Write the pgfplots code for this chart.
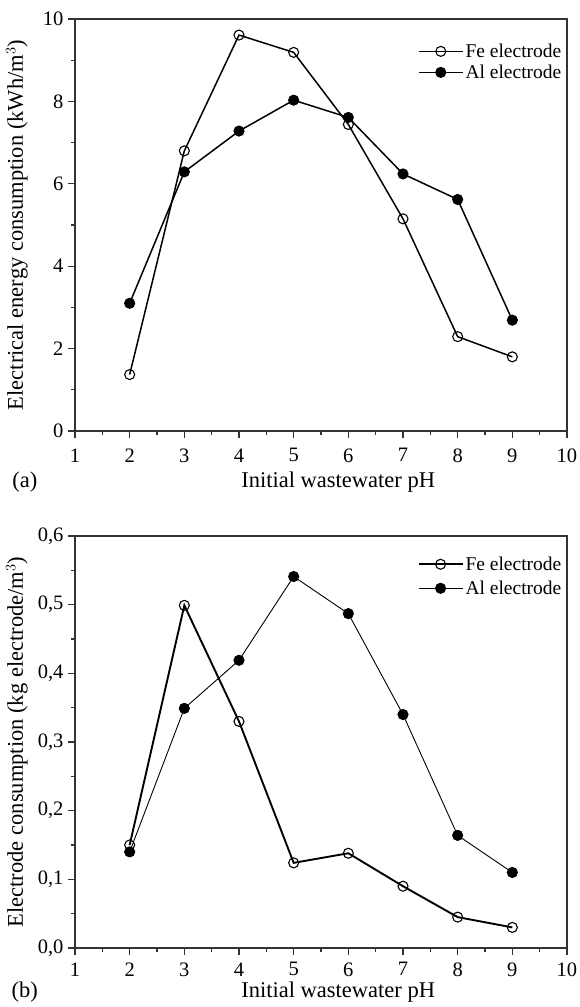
\documentclass[border=0pt]{standalone}
\usepackage{pgfplots}
\pgfplotsset{compat=1.18}
\usepackage{fontspec}
\setmainfont{Liberation Serif}

\pgfplotsset{
  myaxis/.style={
    scale only axis,
    clip=false,
    width=492pt, height=412pt,
    xmin=1, xmax=10,
    xtick={1,2,...,10},
    minor x tick num=1,
    minor y tick num=1,
    tick pos=left,
    tick align=outside,
    major tick length=7pt,
    minor tick length=4pt,
    axis line style={line width=1.2pt, black!80},
    every tick/.style={line width=1.2pt, black!80},
    tick label style={font=\fontsize{20.5}{23}\selectfont},
    yticklabel style={xshift=-1pt},
    /pgf/number format/assume math mode=true,
    label style={font=\fontsize{22.5}{25}\selectfont},
    xlabel={Initial wastewater pH},
    legend cell align=left,
    legend style={draw=none, fill=none, font=\fontsize{19.5}{22}\selectfont,
      inner sep=0pt, row sep=2pt,
      /tikz/every even column/.append style={column sep=2pt}},
    legend image code/.code={\draw[mark repeat=2,mark phase=2] plot coordinates {(0pt,0pt)(22pt,0pt)(44pt,0pt)};},
  },
  fe/.style={black, line width=1.5pt, mark=o, mark size=5pt, mark options={fill=white, line width=1.1pt}},
  al/.style={black, line width=1.5pt, mark=*, mark size=5pt, mark options={fill=black, line width=1.1pt}},
}

\begin{document}
\begin{tikzpicture}
\useasboundingbox (-75pt,-576pt) rectangle (504pt,431pt);
\begin{axis}[myaxis,
  at={(0pt,0pt)},
  ymin=0, ymax=10,
  ytick={0,2,...,10},
  xticklabel style={yshift=-7pt},
  xlabel style={at={(rel axis cs:0.535,-0.124)}, anchor=center},
  ylabel={Electrical energy consumption (kWh/m$^{3}$)},
  ylabel style={at={(rel axis cs:-0.118,0.5)}, anchor=center},
  legend style={at={(rel axis cs:0.993,0.945)}, anchor=north east},
]
\addplot[fe] coordinates {(2,1.37) (3,6.80) (4,9.61) (5,9.19) (6,7.44) (7,5.15) (8,2.29) (9,1.80)};
\addlegendentry{Fe electrode}
\addplot[al] coordinates {(2,3.10) (3,6.29) (4,7.28) (5,8.03) (6,7.61) (7,6.24) (8,5.62) (9,2.69)};
\addlegendentry{Al electrode}
\node at (rel axis cs:-0.102,-0.124) {\fontsize{22.5}{25}\selectfont (a)};
\end{axis}

\begin{axis}[myaxis,
  at={(0pt,-517pt)},
  ymin=0, ymax=0.6,
  ytick={0,0.1,...,0.6},
  yticklabel style={/pgf/number format/.cd, fixed, fixed zerofill, precision=1, use comma},
  xticklabel style={yshift=-4pt},
  xlabel style={at={(rel axis cs:0.535,-0.108)}, anchor=center},
  ylabel={Electrode consumption (kg electrode/m$^{3}$)},
  ylabel style={at={(rel axis cs:-0.118,0.5)}, anchor=center},
  legend style={at={(rel axis cs:0.993,0.955)}, anchor=north east, row sep=5pt},
]
\addplot[fe, line width=1.9pt] coordinates {(2,0.150) (3,0.499) (4,0.330) (5,0.124) (6,0.138) (7,0.090) (8,0.045) (9,0.030)};
\addlegendentry{Fe electrode}
\addplot[al, line width=0.9pt] coordinates {(2,0.140) (3,0.349) (4,0.419) (5,0.541) (6,0.487) (7,0.340) (8,0.164) (9,0.110)};
\addlegendentry{Al electrode}
\node at (rel axis cs:-0.102,-0.108) {\fontsize{22.5}{25}\selectfont (b)};
\end{axis}
\end{tikzpicture}
\end{document}
